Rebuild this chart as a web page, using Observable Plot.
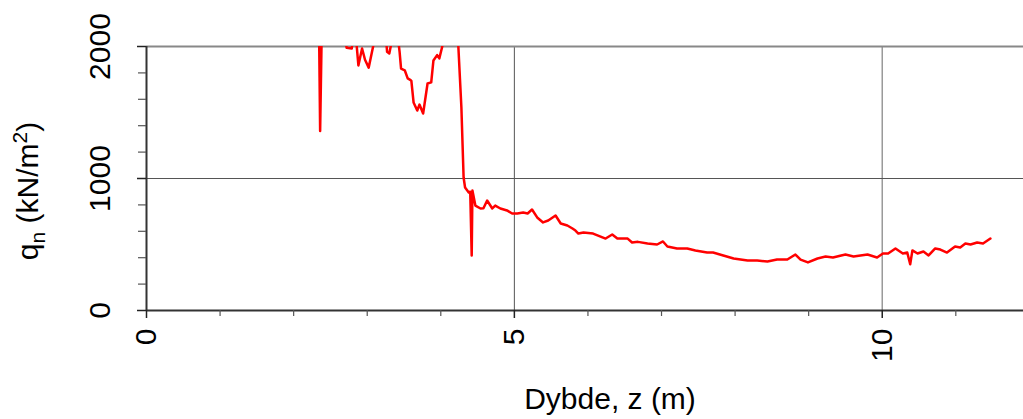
<!DOCTYPE html>
<html>
<head>
<meta charset="utf-8">
<script src="https://cdn.jsdelivr.net/npm/d3@7"></script>
<script src="https://cdn.jsdelivr.net/npm/@observablehq/plot@0.6"></script>
<style>
  html, body { margin: 0; padding: 0; background: #fff; overflow: hidden; }
</style>
</head>
<body>
<div id="chart"></div>
<script>
// Depth z (m)
const depth = [
  2.26, 2.34, 2.36, 2.39, 2.64, 2.72, 2.79, 2.83, 2.85, 2.88, 2.93, 2.97, 3.02, 3.08, 3.13,
  3.25, 3.27, 3.30, 3.33, 3.41, 3.44, 3.46, 3.51, 3.55, 3.59, 3.60, 3.63, 3.68, 3.71, 3.76,
  3.82, 3.87, 3.90, 3.95, 3.98, 4.02, 4.05, 4.20, 4.24, 4.28, 4.31, 4.33, 4.38, 4.40, 4.42,
  4.43, 4.47, 4.54, 4.58, 4.63, 4.70, 4.74, 4.81, 4.90, 4.97, 5.04, 5.12, 5.18, 5.24, 5.31,
  5.39, 5.46, 5.56, 5.63, 5.72, 5.79, 5.83, 5.87, 5.94, 6.07, 6.24, 6.33, 6.40, 6.54, 6.60,
  6.68, 6.81, 6.94, 7.02, 7.08, 7.21, 7.35, 7.46, 7.62, 7.70, 7.84, 7.98, 8.17, 8.30, 8.44,
  8.57, 8.71, 8.82, 8.89, 8.99, 9.12, 9.23, 9.33, 9.50, 9.61, 9.80, 9.93, 10.01, 10.08, 10.18,
  10.28, 10.34, 10.38, 10.41, 10.48, 10.56, 10.63, 10.72, 10.79, 10.88, 10.99, 11.06, 11.13, 11.20, 11.29,
  11.37, 11.47
];
// Net bearing resistance q_n (kN/m2)
const qn = [
  2600, 2400, 1360, 2400, 2300, 1990, 1985, 2200, 2050, 1856, 1985, 1900, 1840, 2000, 2150,
  2100, 1960, 1947, 2030, 2100, 1960, 1833, 1820, 1758, 1745, 1740, 1576, 1515, 1560, 1492,
  1720, 1728, 1894, 1935, 1910, 2000, 2300, 2400, 1985, 1538, 1008, 932, 894, 900, 417,
  909, 795, 773, 775, 833, 773, 795, 773, 758, 735, 735, 742, 735, 765, 705,
  667, 682, 720, 659, 644, 621, 606, 583, 591, 583, 545, 576, 545, 545, 515,
  520, 508, 500, 523, 485, 470, 470, 455, 439, 439, 417, 394, 379, 379, 371,
  386, 386, 424, 386, 364, 394, 409, 402, 424, 409, 424, 402, 432, 432, 470,
  432, 439, 350, 455, 432, 447, 417, 470, 462, 439, 485, 478, 508, 500, 515,
  508, 545
];

const xTicks = [0, 5, 10];
const xMinorTicks = [1, 2, 3, 4, 6, 7, 8, 9, 11];
const yTicks = [0, 1000, 2000];
const yMinorTicks = [200, 400, 600, 800, 1200, 1400, 1600, 1800];
const xLabel = "Dybde, z (m)";

const data = depth.map((z, i) => ({z, q: qn[i]}));

const FONT = "'Liberation Sans', Arial, Helvetica, sans-serif";

const chart = Plot.plot({
  width: 1023,
  height: 419,
  marginLeft: 146,
  marginRight: 0,
  marginTop: 46,
  marginBottom: 109,
  style: {fontFamily: FONT, background: "#fff"},
  x: {domain: [0, 11.92], axis: null},
  y: {domain: [0, 2000], axis: null},
  marks: [
    // grid lines
    Plot.ruleX([5], {stroke: "#555", strokeWidth: 1}),
    Plot.ruleX([10], {stroke: "#999", strokeWidth: 1.5}),
    Plot.ruleY([1000], {stroke: "#555", strokeWidth: 1}),
    Plot.ruleY([2000], {stroke: "#888", strokeWidth: 2}),
    // data line
    Plot.line(data, {x: "z", y: "q", stroke: "#ff0000", strokeWidth: 2.5, clip: true}),
    // axis lines
    Plot.ruleX([0], {stroke: "#333", strokeWidth: 2}),
    Plot.ruleY([0], {stroke: "#333", strokeWidth: 2}),
    // ticks
    Plot.axisX(xTicks, {tickSize: 8, tickFormat: () => "", label: null, stroke: "#222", strokeWidth: 1.5}),
    Plot.axisX(xMinorTicks, {tickSize: 6, tickFormat: () => "", label: null, stroke: "#555", strokeWidth: 1.2}),
    Plot.axisY(yTicks, {tickSize: 9, tickFormat: () => "", label: null, stroke: "#222", strokeWidth: 1.5}),
    Plot.axisY(yMinorTicks, {tickSize: 8, tickFormat: () => "", label: null, stroke: "#555", strokeWidth: 1.2}),
    // tick labels
    Plot.text(yTicks, {
      y: d => d, frameAnchor: "left", dx: -46.5, rotate: -90,
      textAnchor: "middle", lineAnchor: "middle", fontSize: 30, fill: "#000",
      text: d => String(d)
    }),
    Plot.text(xTicks, {
      x: d => d, frameAnchor: "bottom", dy: 18, rotate: -90,
      textAnchor: "end", lineAnchor: "middle", fontSize: 30, fill: "#000",
      text: d => String(d)
    }),
    // x axis title
    Plot.text([xLabel], {
      frameAnchor: "bottom", dx: 25, dy: 98, lineAnchor: "bottom",
      textAnchor: "middle", fontSize: 30, fill: "#000", text: d => d
    })
  ]
});

// y axis title with subscript/superscript
const svg = d3.select(chart);
const t = svg.append("text")
  .attr("transform", "translate(38,191) rotate(-90)")
  .attr("text-anchor", "middle")
  .attr("font-family", FONT)
  .attr("font-size", 30)
  .attr("fill", "#000");
t.append("tspan").text("q");
t.append("tspan").attr("dy", 7).attr("font-size", 21).text("n");
t.append("tspan").attr("dy", -7).text(" (kN/m");
t.append("tspan").attr("dy", -11).attr("font-size", 21).text("2");
t.append("tspan").attr("dy", 11).text(")");

document.getElementById("chart").appendChild(chart);
</script>
</body>
</html>
